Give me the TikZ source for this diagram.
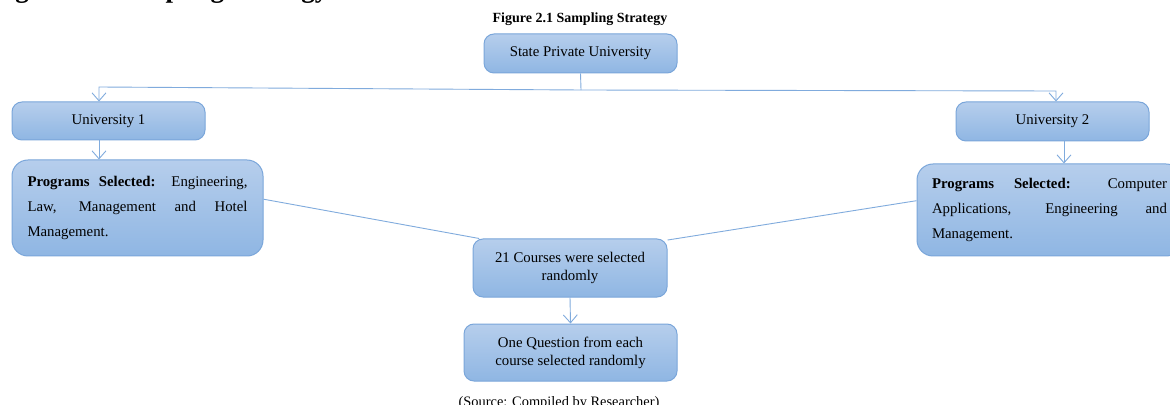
\documentclass[tikz,border=0pt]{standalone}
\usepackage{fontspec}
\setmainfont{Liberation Serif}
\usetikzlibrary{arrows.meta, positioning, calc}
\definecolor{boxtop}{RGB}{182,206,236}
\definecolor{boxbottom}{RGB}{143,182,227}
\definecolor{boxline}{RGB}{122,166,218}
\definecolor{linkblue}{RGB}{128,171,221}
\newcommand{\boxfont}{\fontsize{7.4}{9}\selectfont}
\newcommand{\progfont}{\fontsize{7.4}{12.5}\selectfont}

\tikzset{
  box/.style={draw=boxline, line width=0.5pt, rounded corners=5pt,
    top color=boxtop, bottom color=boxbottom, align=center,
    font=\boxfont, inner sep=0pt},
  progbox/.style={box, rounded corners=8pt, align=justify, font=\progfont},
  link/.style={draw=linkblue, line width=0.45pt},
  arr/.style={link, -{Straight Barb[length=4pt,width=7pt]}}
}

\begin{document}
\begin{tikzpicture}[x=0.5pt, y=-0.5pt]
  \useasboundingbox (0,0) rectangle (1170,405);
  \fill[white] (0,0) rectangle (1170,405);
  \clip (0,0) rectangle (1170,405);

  % Headings
  \node[anchor=base west, font=\bfseries\fontsize{13.5}{14}\selectfont, inner sep=0pt] (heading) at (-9,-2) {Figure 2.1 Sampling Strategy};
  \node[font=\bfseries\fontsize{7}{8}\selectfont] (title) at (580,19) {Figure 2.1 Sampling Strategy};

  % Boxes
  \node[box, minimum width=96.5pt, minimum height=19.5pt] (spu) at (580.5,53.5) {State Private University};
  \node[box, minimum width=96.5pt, minimum height=19pt] (u1) at (108.5,121) {University 1};
  \node[box, minimum width=96.5pt, minimum height=19.5pt] (u2) at (1052.5,121.5) {University 2};
  \node[progbox, minimum width=125.5pt, minimum height=48pt, text width=110pt] (p1) at (137.5,208)
    {\textbf{Programs Selected:} Engineering,\linebreak Law, Management and Hotel\linebreak Management.};
  \node[progbox, minimum width=132.5pt, minimum height=46pt, text width=117.5pt] (p2) at (1049.5,210)
    {\textbf{Programs Selected:} Computer\linebreak Applications, Engineering and\linebreak Management.};
  \node[box, minimum width=97pt, minimum height=29pt] (c) at (570,268) {21 Courses were selected\\randomly};
  \node[box, minimum width=106.5pt, minimum height=28.5pt] (q) at (570.5,352.5) {One Question from each\\course selected randomly};

  % Source
  \node[anchor=base, font=\fontsize{7.2}{8}\selectfont, inner sep=0pt] (src) at (559,406.5) {(Source: Compiled by Researcher)};

  % Connectors
  \coordinate (hub) at (581,90);
  \coordinate (k1) at (99,87);
  \coordinate (k2) at (1056,91);
  \coordinate (k3) at (1064,141);
  \draw[link] (spu.south) -- (hub);
  \draw[arr] (hub) -- (k1) -- (k1 |- u1.north);
  \draw[arr] (hub) -- (k2) -- (k2 |- u2.north);
  \draw[arr] (k1 |- u1.south) -- (k1 |- p1.north);
  \draw[arr] (k3) -- (k3 |- p2.north);
  \draw[link] (p1.4) -- (c.162);
  \draw[link] (p2.176) -- (c.16);
  \draw[arr] (c.south) -- (q.north);
\end{tikzpicture}
\end{document}
